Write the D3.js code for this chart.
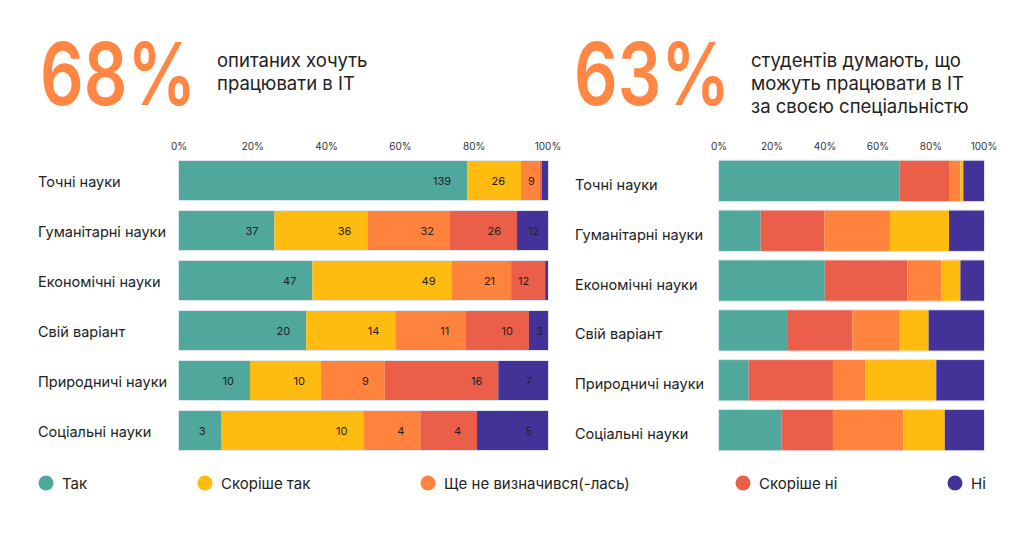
<!DOCTYPE html>
<html>
<meta charset="utf-8">
<style>
  body { margin: 0; background: #fff; }
  svg { font-family: "Inter", "Noto Sans", sans-serif; }
  .tick-label { font-size: 10px; fill: #333; }
  .cat { font-size: 14.5px; fill: #222; }
  .val { font-size: 11px; fill: #222; }
  .legend text { font-size: 15px; fill: #222; }
</style>
<body>
<script src="https://d3js.org/d3.v7.min.js"></script>
<script>
  let width = 1024,
    height = 537;

  // categories (same for both charts)
  let categories = ["Точні науки", "Гуманітарні науки", "Економічні науки",
    "Свій варіант", "Природничі науки", "Соціальні науки"];

  let seriesNames = ["Так", "Скоріше так", "Ще не визначився(-лась)", "Скоріше ні", "Ні"];
  let colors = ["#4fa89b", "#ffbb10", "#ff823d", "#eb5f4a", "#433399"];
  let ticks = ["0%", "20%", "40%", "60%", "80%", "100%"];

  // left chart: number of answers
  let leftTak = [139, 37, 47, 20, 10, 3];
  let leftSkorisheTak = [26, 36, 49, 14, 10, 10];
  let leftNe = [9, 32, 21, 11, 9, 4];
  let leftSkorisheNi = [1, 26, 12, 10, 16, 4];
  let leftNi = [3, 12, 1, 3, 7, 5];

  // right chart: shares in %, drawn in order green, red, orange, yellow, purple
  let rightTak = [68.2, 15.7, 39.9, 25.7, 11.2, 23.5];
  let rightSkorisheNi = [18.6, 24.1, 31.2, 24.7, 31.8, 19.5];
  let rightNe = [4.3, 24.7, 12.8, 17.8, 12.3, 26.6];
  let rightSkorisheTak = [1.1, 22.3, 7.2, 10.9, 26.7, 15.6];
  let rightNi = [7.8, 13.2, 8.9, 20.9, 18.0, 14.8];

  let svg = d3.select("body").append("svg")
    .attr("width", width)
    .attr("height", height);

  // headers
  function header(x, big, lines, tx) {
    let t = svg.append("text")
      .attr("fill", "#ff8643")
      .attr("font-size", 87)
      .attr("font-weight", 600)
      .text(big);
    // squeeze the big number horizontally to the width in the picture
    let sx = 156 / t.node().getComputedTextLength();
    t.attr("transform", `translate(${x},105) scale(${sx},1)`);

    lines.forEach((l, i) => {
      svg.append("text")
        .attr("x", tx).attr("y", 67 + i * 23)
        .attr("font-size", 18.5)
        .attr("fill", "#222")
        .text(l);
    });
  }
  header(40, "68%", ["опитаних хочуть", "працювати в IT"], 217);
  header(574, "63%", ["студентів думають, що", "можуть працювати в IT", "за своєю спеціальністю"], 751);

  function drawChart(opts) {
    let rows = categories.map((c, i) => {
      let r = { cat: c };
      opts.keys.forEach((k, j) => r[k] = opts.values[j][i]);
      return r;
    });

    let stack = d3.stack().keys(opts.keys).offset(d3.stackOffsetExpand);
    let series = stack(rows);

    let x = d3.scaleLinear().domain([0, 1]).range(opts.xRange);
    let y = d3.scaleBand().domain(categories).range(opts.yRange)
      .paddingInner(opts.pad).paddingOuter(opts.pad / 2);

    let g = svg.append("g");

    // tick labels
    g.selectAll(".tick-label")
      .data(ticks)
      .enter().append("text")
      .attr("class", "tick-label")
      .attr("x", (d, i) => x(i / 5))
      .attr("y", 150)
      .attr("text-anchor", "middle")
      .text(d => d);

    // category labels
    g.selectAll(".cat")
      .data(categories)
      .enter().append("text")
      .attr("class", "cat")
      .attr("x", opts.labelX)
      .attr("y", d => y(d) + y.bandwidth() / 2 + opts.labelDy)
      .text(d => d);

    // bar outline
    g.selectAll(".outline")
      .data(categories)
      .enter().append("rect")
      .attr("x", x(0) - 0.5)
      .attr("y", d => y(d) - 0.5)
      .attr("width", x(1) - x(0) + 1)
      .attr("height", y.bandwidth() + 1)
      .attr("fill", "none")
      .attr("stroke", "#dfe7ef");

    let layer = g.selectAll(".layer")
      .data(series)
      .enter().append("g")
      .attr("fill", (d, i) => opts.colors[i]);

    layer.selectAll("rect")
      .data(d => d)
      .enter().append("rect")
      .attr("x", d => x(d[0]))
      .attr("y", d => y(d.data.cat))
      .attr("width", d => x(d[1]) - x(d[0]))
      .attr("height", y.bandwidth());

    if (opts.showValues) {
      series.forEach((s, si) => {
        g.selectAll(".val" + si)
          .data(s.filter(d => x(d[1]) - x(d[0]) > 14))
          .enter().append("text")
          .attr("class", "val")
          .attr("fill", si === 4 ? "#e8e6f4" : "#222")
          .attr("text-anchor", d => (x(d[1]) - x(d[0]) < 32) ? "middle" : "end")
          .attr("x", d => {
            let w = x(d[1]) - x(d[0]);
            return w < 32 ? x(d[0]) + w / 2 + 1 : x(d[1]) - 16;
          })
          .attr("y", d => y(d.data.cat) + y.bandwidth() / 2 + 4)
          .text(d => d.data[s.key]);
      });
    }
  }

  drawChart({
    keys: ["tak", "skorTak", "ne", "skorNi", "ni"],
    values: [leftTak, leftSkorisheTak, leftNe, leftSkorisheNi, leftNi],
    colors: colors,
    xRange: [179, 548],
    yRange: [155.5, 455.5],
    pad: 0.22,
    labelX: 38,
    labelDy: 6,
    showValues: true
  });

  drawChart({
    keys: ["tak", "skorNi", "ne", "skorTak", "ni"],
    values: [rightTak, rightSkorisheNi, rightNe, rightSkorisheTak, rightNi],
    colors: [colors[0], colors[3], colors[2], colors[1], colors[4]],
    xRange: [719, 984],
    yRange: [156, 455],
    pad: 0.19,
    labelX: 575,
    labelDy: 9,
    showValues: false
  });

  // legend
  let legendX = [46, 205, 428, 743, 955];
  let legend = svg.append("g").attr("class", "legend")
    .selectAll("g")
    .data(seriesNames)
    .enter().append("g")
    .attr("transform", (d, i) => `translate(${legendX[i]},483)`);

  legend.append("circle")
    .attr("r", 7.5)
    .attr("fill", (d, i) => colors[i]);

  legend.append("text")
    .attr("x", 16)
    .attr("y", 5.5)
    .text(d => d);
</script>
</body>
</html>
